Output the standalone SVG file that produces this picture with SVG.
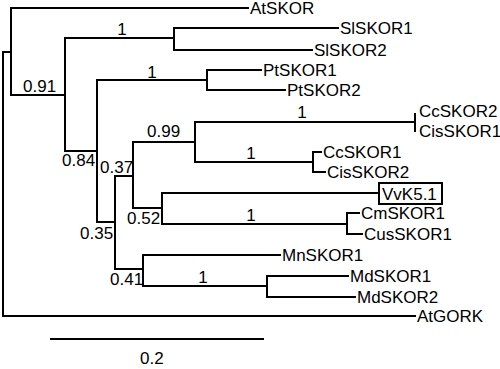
<svg xmlns="http://www.w3.org/2000/svg" width="500" height="369" viewBox="0 0 500 369">
<style>
.e{fill:none;stroke:#000;stroke-width:2;stroke-linecap:square}
text{font-family:"Liberation Sans",Arial,sans-serif;font-size:17px;fill:#000}
.m{text-anchor:middle}
.box{fill:none;stroke:#000;stroke-width:2}
</style>
<rect width="500" height="369" fill="#fff"/>
<g id="connectors">
<path class="e" d="M3,52V316M3,52H11M3,316H415"/>
<path class="e" d="M11,8V95M11,8H248M11,95H65"/>
<path class="e" d="M65,38V151M65,38H174M65,151H97"/>
<path class="e" d="M174,28V50M174,28H338M174,50H312"/>
<path class="e" d="M97,80V222M97,80H207M97,222H115"/>
<path class="e" d="M207,70V90M207,70H261M207,90H285"/>
<path class="e" d="M115,176V269M115,176H133M115,269H143"/>
<path class="e" d="M133,142V208M133,142H195M133,208H162"/>
<path class="e" d="M195,122V162M195,122H415M195,162H313"/>
<path class="e" d="M415,114V131"/>
<path class="e" d="M313,152V172M313,152H321M313,172H325"/>
<path class="e" d="M162,193V224M162,193H379M162,224H347"/>
<path class="e" d="M347,213V234M347,213H359M347,234H362"/>
<path class="e" d="M143,255V286M143,255H280M143,286H267"/>
<path class="e" d="M267,276V297M267,276H348M267,297H355"/>
</g>
<g id="support">
<text x="23" y="92">0.91</text>
<text class="m" x="122" y="35">1</text>
<text x="62" y="166">0.84</text>
<text class="m" x="152" y="78">1</text>
<text x="80" y="239">0.35</text>
<text x="100" y="173">0.37</text>
<text x="147" y="137">0.99</text>
<text class="m" x="302" y="118">1</text>
<text class="m" x="251" y="159">1</text>
<text x="127" y="224">0.52</text>
<text class="m" x="251" y="221">1</text>
<text x="110" y="285">0.41</text>
<text class="m" x="203" y="283">1</text>
</g>
<g id="AtSKOR"><text x="250" y="14">AtSKOR</text></g>
<g id="SlSKOR1"><text x="340" y="34">SlSKOR1</text></g>
<g id="SlSKOR2"><text x="314" y="56">SlSKOR2</text></g>
<g id="PtSKOR1"><text x="263" y="76">PtSKOR1</text></g>
<g id="PtSKOR2"><text x="287" y="96">PtSKOR2</text></g>
<g id="CcSKOR2"><text x="419" y="117">CcSKOR2</text></g>
<g id="CisSKOR1"><text x="419" y="137">CisSKOR1</text></g>
<g id="CcSKOR1"><text x="323" y="158">CcSKOR1</text></g>
<g id="CisSKOR2"><text x="327" y="178">CisSKOR2</text></g>
<g id="VvK51"><rect class="box" x="379" y="183" width="63" height="21"/><text x="382" y="200">VvK5.1</text></g>
<g id="CmSKOR1"><text x="361" y="219">CmSKOR1</text></g>
<g id="CusSKOR1"><text x="364" y="240">CusSKOR1</text></g>
<g id="MnSKOR1"><text x="282" y="261">MnSKOR1</text></g>
<g id="MdSKOR1"><text x="350" y="282">MdSKOR1</text></g>
<g id="MdSKOR2"><text x="357" y="303">MdSKOR2</text></g>
<g id="AtGORK"><text x="417" y="322">AtGORK</text></g>
<g id="scale">
<path class="e" d="M51,339H263"/>
<text x="140" y="364">0.2</text>
</g>
</svg>
